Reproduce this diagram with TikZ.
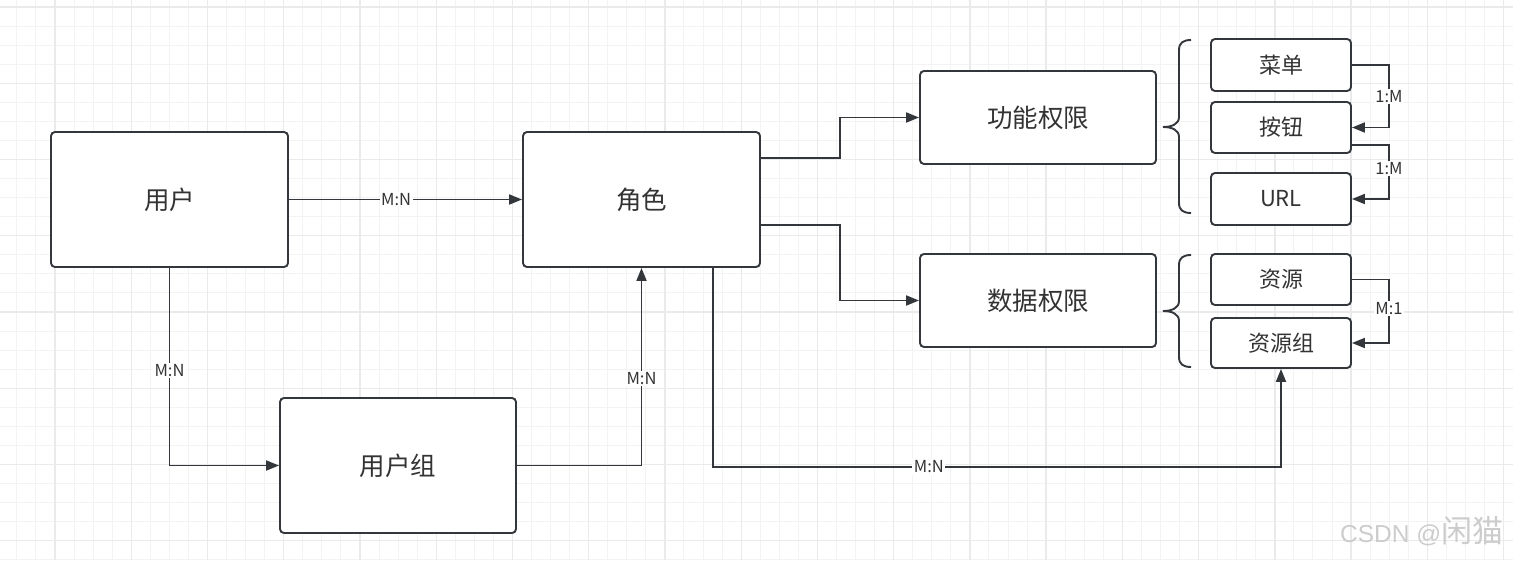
\documentclass[tikz,border=0pt]{standalone}
\usepackage{fontspec}
\setmainfont{Noto Sans CJK SC}
\newfontfamily\wmlatin{Liberation Sans}
\usetikzlibrary{arrows.meta}
\definecolor{edge}{HTML}{33373B}
\definecolor{txt}{HTML}{333333}
\definecolor{gridminor}{HTML}{F3F3F3}
\definecolor{gridmajor}{HTML}{EAEAEA}
\definecolor{wmark}{HTML}{CCCCCC}
\begin{document}
\begin{tikzpicture}[x=1pt,y=-1pt,
  box/.style={draw=edge, line width=1.9pt, rounded corners=4pt, fill=white, text=txt,
    font=\fontsize{25.5}{30}\selectfont, inner sep=0pt},
  sbox/.style={box, font=\fontsize{22}{26}\selectfont},
  conn/.style={draw=edge, line width=1.9pt, -{Triangle[length=13pt,width=10pt]}},
  lab/.style={fill=white, inner sep=1.5pt, text=txt, font=\fontsize{16.5}{19}\selectfont},
  bracestyle/.style={draw=edge, line width=1.9pt},
  minorline/.style={draw=gridminor, line width=1pt},
  majorline/.style={draw=gridmajor, line width=1.3pt},
]
\useasboundingbox (0,0) rectangle (1513,560);
\fill[white] (0,0) rectangle (1513,560);
% grid
\foreach \i in {0,...,80} {
  \draw[minorline] ({-2.18+19.06*\i},0) -- ({-2.18+19.06*\i},560);
}
\foreach \i in {0,...,30} {
  \draw[minorline] (0,{7+19.06*\i}) -- (1513,{7+19.06*\i});
}
\foreach \i in {0,...,20} {
  \draw[majorline] ({-21.24+76.24*\i},0) -- ({-21.24+76.24*\i},560);
}
\foreach \i in {0,...,8} {
  \draw[majorline] (0,{7+76.24*\i}) -- (1513,{7+76.24*\i});
}

% main boxes
\node[box, minimum width=237pt, minimum height=135pt] (user) at (169.5,199.5) {用户};
\node[box, minimum width=237pt, minimum height=135pt] (role) at (641.5,199.5) {角色};
\node[box, minimum width=236pt, minimum height=135pt] (group) at (398,465.5) {用户组};
\node[box, minimum width=236pt, minimum height=93pt] (func) at (1038,117.5) {功能权限};
\node[box, minimum width=236pt, minimum height=93pt] (data) at (1038,300.5) {数据权限};

% small boxes
\node[sbox, minimum width=140pt, minimum height=52pt] (menu) at (1281,65) {菜单};
\node[sbox, minimum width=140pt, minimum height=51pt] (btn) at (1281,127.5) {按钮};
\node[sbox, minimum width=140pt, minimum height=52pt] (url) at (1281,199) {URL};
\node[sbox, minimum width=140pt, minimum height=51pt] (res) at (1281,279.5) {资源};
\node[sbox, minimum width=140pt, minimum height=50pt] (resg) at (1281,343) {资源组};

% braces
\draw[bracestyle] (1191,40) .. controls (1183,40) and (1179,43) .. (1179,50) -- (1179,117)
  .. controls (1179,124) and (1172,127) .. (1163,127)
  .. controls (1172,127) and (1179,130) .. (1179,137) -- (1179,203)
  .. controls (1179,210) and (1183,213) .. (1191,213);
\draw[bracestyle] (1191,255) .. controls (1183,255) and (1179,258) .. (1179,265) -- (1179,301)
  .. controls (1179,308) and (1172,311) .. (1163,311)
  .. controls (1172,311) and (1179,314) .. (1179,321) -- (1179,357)
  .. controls (1179,364) and (1183,367) .. (1191,367);

% connectors
\draw[conn] (user.east) -- node[lab, pos=0.46] {M:N} (role.west);
\draw[conn] (user.south) |- node[lab, pos=0.26] {M:N} (group.west);
\draw[conn] (group.east) -| node[lab, pos=0.72] {M:N} (role.south);
\draw[conn] ([yshift=41.5pt]role.east) -- ++(79,0) |- (func.west);
\draw[conn] ([yshift=-25.5pt]role.east) -- ++(79,0) |- (data.west);
\draw[conn] ([xshift=71.5pt]role.south) -- ++(0,199) -| node[lab, pos=0.19] {M:N} (resg.south);

\draw[conn] (menu.east) -- ++(37,0) |- node[lab, pos=0.25] {1:M} (btn.east);
\draw[conn] ([yshift=-17.5pt]btn.east) -- ++(37,0) |- node[lab, pos=0.22] {1:M} (url.east);
\draw[conn] (res.east) -- ++(37,0) |- node[lab, pos=0.23] {M:1} (resg.east);

% watermark
\node[text=wmark, anchor=base west, inner sep=0pt] (wm) at (1340,542)
  {{\wmlatin\fontsize{24.5}{28}\selectfont CSDN @}{\fontsize{31}{34}\selectfont 闲猫}};
\end{tikzpicture}
\end{document}
